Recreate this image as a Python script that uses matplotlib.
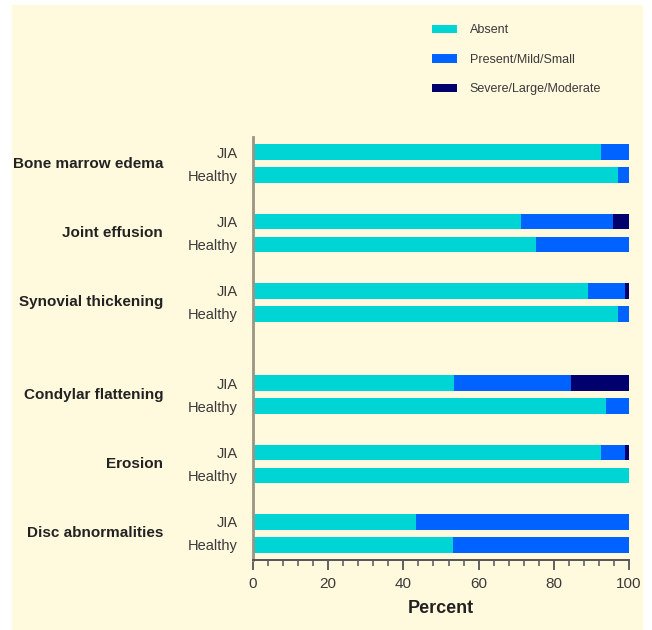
import numpy as np
import matplotlib.pyplot as plt
from matplotlib.patches import Rectangle, Patch
from matplotlib.ticker import MultipleLocator
from matplotlib.transforms import blended_transform_factory

plt.rcParams['font.family'] = ['Liberation Sans', 'DejaVu Sans']

# data (percent of joints)
groups = ["Bone marrow edema", "Joint effusion", "Synovial thickening",
          "Condylar flattening", "Erosion", "Disc abnormalities"]
jia_absent = [92.5, 71.3, 89.0, 53.4, 92.5, 43.4]
jia_present = [7.5, 24.4, 9.9, 31.2, 6.4, 56.6]
jia_severe = [0.0, 4.3, 1.1, 15.4, 1.1, 0.0]
healthy_absent = [97.0, 75.2, 97.0, 93.9, 100.0, 53.1]
healthy_present = [3.0, 24.8, 3.0, 6.1, 0.0, 46.9]
healthy_severe = [0.0, 0.0, 0.0, 0.0, 0.0, 0.0]
legend_labels = ["Absent", "Present/Mild/Small", "Severe/Large/Moderate"]

colors = ["#00D5D5", "#0062FF", "#00006E"]
cream = "#FFF9DD"

fig = plt.figure(figsize=(6.52, 6.3), dpi=100, facecolor="white")
fig.patches.append(Rectangle((12 / 652, 0), 630 / 652, 625 / 630,
                             transform=fig.transFigure, color=cream, zorder=-10))
ax = fig.add_axes([253 / 652, 70 / 630, 376 / 652, 423 / 630])
ax.set_facecolor("none")

# JIA row then Healthy row; extra gap before the fourth group
idx = np.arange(len(groups))
jia_y = idx * 3 + (idx >= 3)
healthy_y = jia_y + 1
h = 0.68

for ypos, parts in [(jia_y, [jia_absent, jia_present, jia_severe]),
                    (healthy_y, [healthy_absent, healthy_present, healthy_severe])]:
    left = np.zeros(len(groups))
    for vals, c in zip(parts, colors):
        vals = np.array(vals)
        ax.barh(ypos, vals, left=left, height=h, color=c, linewidth=0)
        left += vals

ax.set_ylim(healthy_y[-1] + 0.65, -0.65)
ax.set_xlim(0, 100)

yt = np.concatenate([jia_y, healthy_y])
ax.set_yticks(yt)
ax.set_yticklabels(["JIA"] * len(groups) + ["Healthy"] * len(groups),
                   fontsize=10.5, color="#3a3a3a")
ax.tick_params(axis="y", length=0, pad=11)

ax.xaxis.set_major_locator(MultipleLocator(20))
ax.xaxis.set_minor_locator(MultipleLocator(4))
ax.tick_params(axis="x", which="major", length=7, width=1.3, color="#555555",
               labelsize=11, labelcolor="#3a3a3a", pad=5)
ax.tick_params(axis="x", which="minor", length=4, width=1.1, color="#555555")
ax.set_xlabel("Percent", fontsize=13, fontweight="bold", color="#222222", labelpad=7)

for s in ["top", "right"]:
    ax.spines[s].set_visible(False)
ax.spines["left"].set_color("#9a9484")
ax.spines["left"].set_linewidth(2)
ax.spines["bottom"].set_color("#555555")
ax.spines["bottom"].set_linewidth(1.4)

tr = blended_transform_factory(fig.transFigure, ax.transData)
for g, y in zip(groups, jia_y):
    ax.text(163 / 652, y + 0.5, g, transform=tr, ha="right", va="center",
            fontsize=11, fontweight="bold", color="#222222")

handles = [Patch(facecolor=c, edgecolor="none") for c in colors]
fig.legend(handles, legend_labels, loc="upper left",
           bbox_to_anchor=(426 / 652, 1 - 18 / 630), frameon=False,
           fontsize=9, labelspacing=1.4, handlelength=2.0, handleheight=0.65,
           handletextpad=1.0, borderpad=0, labelcolor="#3a3a3a")

fig.savefig("out.png", dpi=100, facecolor=fig.get_facecolor())
